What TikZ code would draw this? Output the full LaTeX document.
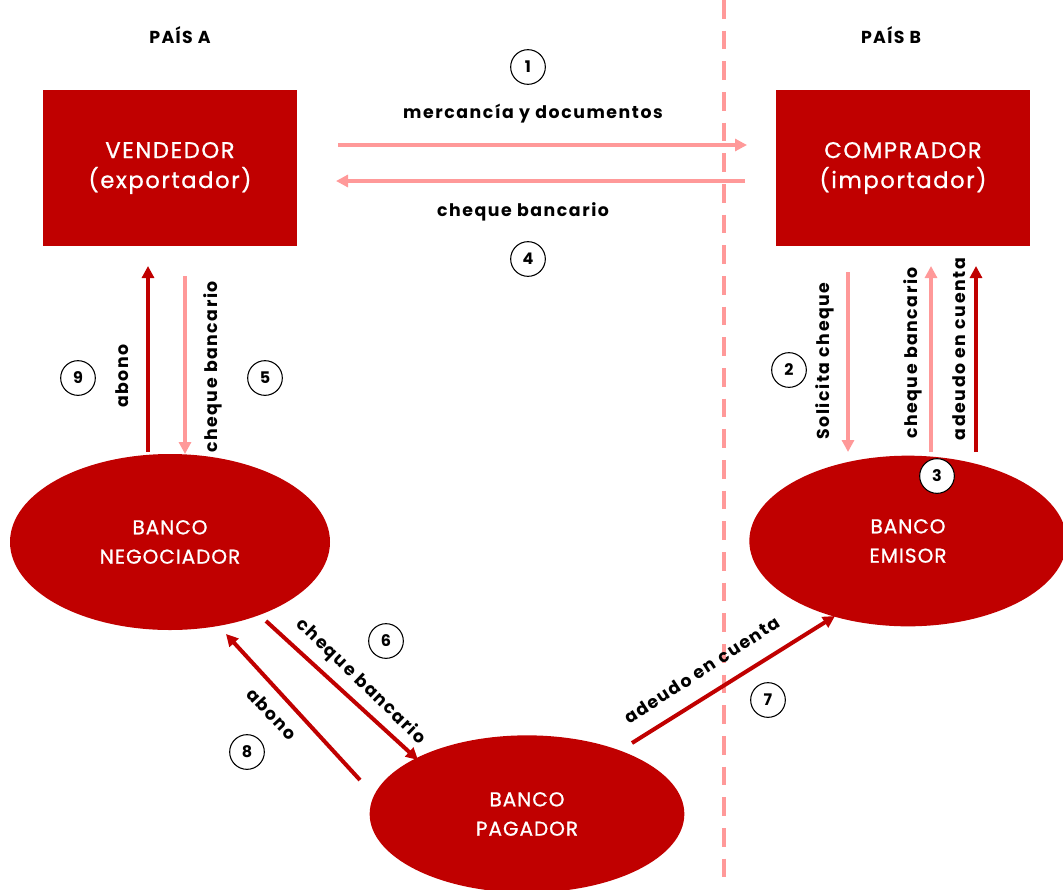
\documentclass[tikz,border=0pt]{standalone}
\usepackage{fontspec}
\setmainfont{Poppins}
\usetikzlibrary{arrows.meta,shapes.geometric}
\definecolor{darkred}{HTML}{C00000}
\definecolor{pinkline}{HTML}{FF9999}
\begin{document}
\begin{tikzpicture}[x=0.75pt,y=-0.75pt,
  box/.style={fill=darkred,draw=none,minimum width=190.5pt,minimum height=117pt,text=white,align=center,
    font=\fontsize{17}{22.5}\selectfont\addfontfeature{LetterSpace=7,FakeBold=0.9},inner sep=0pt},
  bank/.style={ellipse,fill=darkred,draw=none,text=white,align=center,
    font=\fontsize{15}{22}\selectfont\addfontfeature{LetterSpace=5,FakeBold=0.9},inner sep=0pt},
  num/.style={circle,draw=black,line width=0.8pt,fill=white,minimum size=26pt,inner sep=0pt,font=\bfseries\fontsize{12}{14}\selectfont},
  lbl/.style={font=\bfseries\fontsize{13}{15}\selectfont\addfontfeature{LetterSpace=9},inner sep=1pt},
  pinkarrow/.style={draw=pinkline,line width=3pt,-{Triangle[length=9pt,width=9pt]}},
  redarrow/.style={draw=darkred,line width=3pt,-{Triangle[length=9pt,width=9pt]}},
  country/.style={font=\bfseries\fontsize{13}{15}\selectfont\addfontfeature{LetterSpace=8}}
]
\useasboundingbox (0,0) rectangle (1063,889);

% border between the two countries
\draw[pinkline,line width=3pt,dash pattern=on 14pt off 9pt] (724,0) -- (724,889);

\node[country] (paisA) at (180,35) {PAÍS A};
\node[country] (paisB) at (891,35) {PAÍS B};

% parties and banks
\node[box] (vend) at (170,168) {VENDEDOR\\(exportador)};
\node[box] (comp) at (903,168) {COMPRADOR\\(importador)};
\node[bank,minimum width=240pt,minimum height=132pt] (neg) at (170,542) {BANCO\\NEGOCIADOR};
\node[bank,minimum width=238pt,minimum height=128pt] (emi) at (908,541) {BANCO\\EMISOR};
\node[bank,minimum width=236pt,minimum height=118pt] (pag) at (527,814) {BANCO\\PAGADOR};

% free ends of the connectors
\coordinate (a1s) at (338,145); \coordinate (a1e) at (747,145);
\coordinate (a4s) at (745,181); \coordinate (a4e) at (336,181);
\coordinate (a9s) at (148,452); \coordinate (a9e) at (148,266);
\coordinate (a5s) at (185,276); \coordinate (a5e) at (185,454);
\coordinate (a2s) at (848,272); \coordinate (a2e) at (848,452);
\coordinate (a3s) at (931,452); \coordinate (a3e) at (931,266);
\coordinate (a3bs) at (976,452); \coordinate (a3be) at (976,266);
\coordinate (a6s) at (266,621); \coordinate (a6e) at (418,760);
\coordinate (a8s) at (360,780); \coordinate (a8e) at (226,634);
\coordinate (a7s) at (632,743); \coordinate (a7e) at (835,616);

\draw[pinkarrow] (a1s) -- (a1e);
\draw[pinkarrow] (a4s) -- (a4e);
\draw[redarrow] (a9s) -- (a9e);
\draw[pinkarrow] (a5s) -- (a5e);
\draw[pinkarrow] (a2s) -- (a2e);
\draw[pinkarrow] (a3s) -- (a3e);
\draw[redarrow] (a3bs) -- (a3be);
\draw[redarrow] (a6s) -- (a6e);
\draw[redarrow] (a8s) -- (a8e);
\draw[redarrow] (a7s) -- (a7e);

% connector labels
\node[lbl] (t1) at (533,114) {mercancía y documentos};
\node[lbl] (t4) at (523,212) {cheque bancario};
\node[lbl,rotate=90] (t9) at (122,376) {abono};
\node[lbl,rotate=90] (t5) at (213,367) {cheque bancario};
\node[lbl,rotate=90] (t2) at (825,361) {Solicita cheque};
\node[lbl,rotate=90] (t3) at (913,353) {cheque bancario};
\node[lbl,rotate=90] (t3b) at (959,349) {adeudo en cuenta};
\node[lbl,rotate=-44] (t6) at (361,682) {cheque bancario};
\node[lbl,rotate=-47] (t8) at (272,714) {abono};
\node[lbl,rotate=33] (t7) at (702,670) {adeudo en cuenta};

% step numbers
\node[num] (n1) at (528,67) {1};
\node[num] (n4) at (528,259) {4};
\node[num] (n9) at (78,378) {9};
\node[num] (n5) at (265,378) {5};
\node[num] (n2) at (789,370) {2};
\node[num] (n3) at (937,476) {3};
\node[num] (n6) at (386,641) {6};
\node[num] (n8) at (247,752) {8};
\node[num] (n7) at (768,700) {7};
\end{tikzpicture}
\end{document}
